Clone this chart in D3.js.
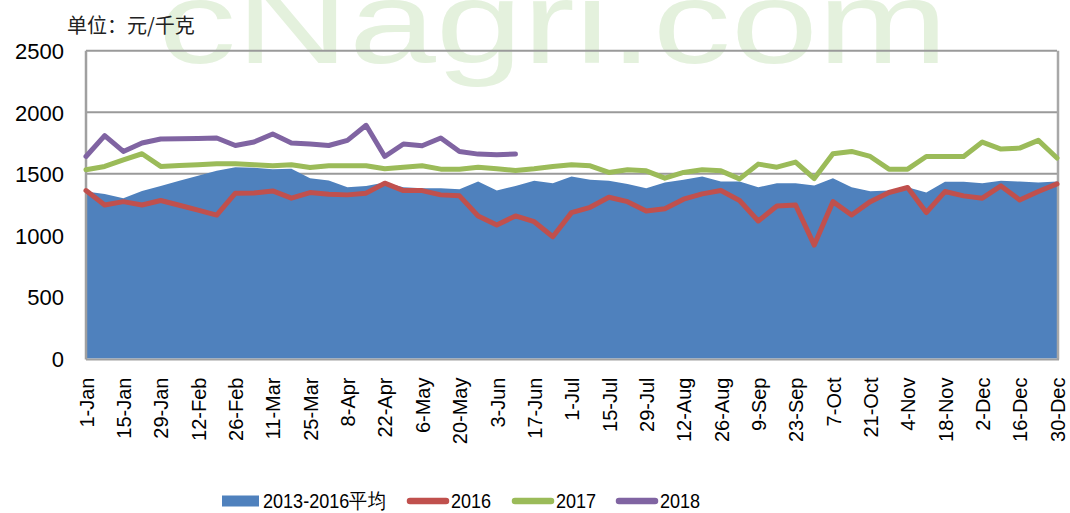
<!DOCTYPE html>
<html><head><meta charset="utf-8">
<script src="https://cdn.jsdelivr.net/npm/d3@7"></script>
<style>body{margin:0;background:#fff}svg{display:block}</style>
</head><body>
<svg id="c" width="1070" height="513"></svg>
<script>
const categories = ["1-Jan","8-Jan","15-Jan","22-Jan","29-Jan","5-Feb","12-Feb","19-Feb","26-Feb","4-Mar","11-Mar","18-Mar","25-Mar","1-Apr","8-Apr","15-Apr","22-Apr","29-Apr","6-May","13-May","20-May","27-May","3-Jun","10-Jun","17-Jun","24-Jun","1-Jul","8-Jul","15-Jul","22-Jul","29-Jul","5-Aug","12-Aug","19-Aug","26-Aug","2-Sep","9-Sep","16-Sep","23-Sep","30-Sep","7-Oct","14-Oct","21-Oct","28-Oct","4-Nov","11-Nov","18-Nov","25-Nov","2-Dec","9-Dec","16-Dec","23-Dec","30-Dec"];
const avg2013_2016 = [1356,1337,1302,1361,1402,1443,1484,1524,1554,1549,1538,1541,1465,1445,1391,1402,1429,1391,1383,1383,1375,1437,1364,1402,1443,1424,1478,1451,1443,1418,1383,1429,1451,1478,1437,1437,1391,1424,1424,1405,1465,1391,1359,1364,1391,1348,1435,1435,1424,1443,1437,1429,1437];
const s2016 = [1364,1247,1274,1247,1283,1245,1205,1165,1343,1345,1361,1302,1348,1334,1329,1343,1424,1364,1364,1329,1321,1158,1084,1158,1111,989,1185,1228,1310,1274,1198,1217,1294,1337,1364,1283,1117,1239,1247,921,1274,1166,1274,1348,1389,1185,1356,1321,1302,1402,1288,1356,1418];
const s2017 = [1533,1560,1614,1663,1560,1568,1573,1581,1581,1573,1565,1573,1551,1565,1565,1565,1541,1554,1565,1538,1538,1554,1541,1527,1541,1560,1573,1565,1511,1533,1524,1465,1511,1533,1524,1459,1579,1554,1595,1462,1663,1682,1641,1538,1538,1641,1641,1641,1758,1701,1709,1772,1628];
const s2018 = [1641,1810,1682,1750,1783,1785,1787,1791,1730,1758,1823,1750,1742,1730,1772,1894,1641,1742,1728,1791,1682,1660,1655,1660];
const yTicks = [0,500,1000,1500,2000,2500];
const legendLabels = ["2013-2016平均","2016","2017","2018"];
const unitLabel = "单位：元/千克";
const watermark = "cNagri.com";

const colors = {area:"#4F81BD", r:"#C0504D", g:"#9BBB59", p:"#8064A2"};
const svg = d3.select("#c");
const L = 86, R = 1057, T = 50.7, B = 358.5;
const x = d3.scalePoint().domain(categories).range([L, R]);
const y = d3.scaleLinear().domain([0, 2500]).range([B, T]);
const latin = "'Liberation Sans', Arial, sans-serif";

// watermark
svg.append("text").attr("x", 158).attr("y", 63)
  .attr("font-family", "'Liberation Sans', Arial, sans-serif")
  .attr("font-size", 116).attr("textLength", 790).attr("lengthAdjust", "spacingAndGlyphs")
  .attr("fill", "#e4f1dd").text(watermark);

// gridlines
svg.append("g").selectAll("line").data(yTicks.filter(d => d > 0)).join("line")
  .attr("x1", L).attr("x2", R).attr("y1", d => y(d)).attr("y2", d => y(d))
  .attr("stroke", "#9a9a9a").attr("stroke-width", 2);

// area
const area = d3.area().x((d, i) => x(categories[i])).y0(y(0)).y1(d => y(d));
svg.append("path").datum(avg2013_2016).attr("d", area).attr("fill", colors.area);

// frame
svg.append("line").attr("x1", L).attr("x2", L).attr("y1", T).attr("y2", B + 1).attr("stroke", "#a0a0a0").attr("stroke-width", 2.5);
svg.append("line").attr("x1", R + 1).attr("x2", R + 1).attr("y1", T).attr("y2", B + 1).attr("stroke", "#a8a8a8").attr("stroke-width", 2.5);
svg.append("line").attr("x1", L).attr("x2", R + 2).attr("y1", B + 1).attr("y2", B + 1).attr("stroke", "#a0a0a0").attr("stroke-width", 2);

// lines
const line = d3.line().defined(d => d != null).x((d, i) => x(categories[i])).y(d => y(d)).curve(d3.curveLinear);
[[s2016, colors.r], [s2017, colors.g], [s2018, colors.p]].forEach(([data, c]) => {
  svg.append("path").datum(data).attr("d", line).attr("fill", "none")
    .attr("stroke", c).attr("stroke-width", 5).attr("stroke-linejoin", "round").attr("stroke-linecap", "round");
});

// y axis
const yAxis = d3.axisLeft(y).tickValues(yTicks).tickSize(0).tickPadding(0).tickFormat(d3.format("d"));
const gy = svg.append("g").attr("transform", `translate(64,0)`).call(yAxis);
gy.select(".domain").remove();
gy.selectAll("text").attr("font-family", latin).attr("font-size", 22).attr("fill", "#000").attr("dy", "0.36em");

// x axis
const xAxis = d3.axisBottom(x).tickValues(categories.filter((d, i) => i % 2 === 0)).tickSize(0).tickPadding(0);
const gx = svg.append("g").attr("transform", `translate(0,${B})`).call(xAxis);
gx.select(".domain").remove();
gx.selectAll("text").attr("font-family", latin).attr("font-size", 20).attr("fill", "#000")
  .attr("text-anchor", "end").attr("transform", "rotate(-90)")
  .attr("x", -19).attr("y", 0).attr("dy", "0.36em");

// unit label
svg.append("text").attr("x", 67).attr("y", 33).attr("font-family", "'Noto Sans CJK SC', sans-serif")
  .attr("font-size", 20).attr("fill", "#222").text(unitLabel);

// legend
const lg = svg.append("g");
const legendX = [222, 407, 512, 616];
legendLabels.forEach((t, i) => {
  const lx = legendX[i];
  if (i === 0) {
    lg.append("rect").attr("x", lx).attr("y", 495.5).attr("width", 37).attr("height", 11).attr("fill", colors.area);
  } else {
    const c = [colors.r, colors.g, colors.p][i - 1];
    lg.append("line").attr("x1", lx + 3).attr("x2", lx + 39).attr("y1", 501).attr("y2", 501)
      .attr("stroke", c).attr("stroke-width", 6.5).attr("stroke-linecap", "round");
  }
  const tx = lx + (i === 0 ? 41 : 44);
  lg.append("text").attr("x", tx).attr("y", 508.5)
    .attr("font-family", latin).attr("font-size", 21).attr("fill", "#000")
    .attr("transform", `translate(${tx},0) scale(0.86,1) translate(${-tx},0)`)
    .text(t);
});
</script>
</body></html>
